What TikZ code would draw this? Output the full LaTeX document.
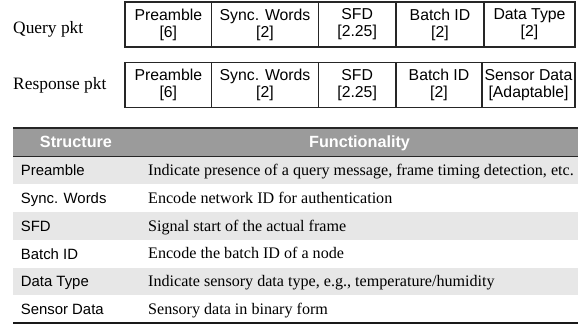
\documentclass[tikz,border=0pt]{standalone}
\usepackage{fontspec}
\setmainfont{Liberation Serif}
\setsansfont{Liberation Sans}
\definecolor{headgrey}{RGB}{155,155,155}
\definecolor{rowgrey}{RGB}{231,231,231}
\begin{document}
\begin{tikzpicture}[x=1pt,y=-1pt,
        field/.style={draw=black!85,line width=1.2pt,minimum height=45pt,inner sep=0pt,
                align=center,font=\sffamily\fontsize{15.8}{17}\selectfont},
        pktname/.style={anchor=base west,inner sep=0pt,font=\fontsize{17.4}{20}\selectfont},
        headtxt/.style={anchor=base,inner sep=0pt,text=white,font=\sffamily\bfseries\fontsize{16.2}{18}\selectfont},
        keytxt/.style={anchor=base west,inner sep=0pt,font=\sffamily\fontsize{14.9}{17}\selectfont},
        desctxt/.style={anchor=base west,inner sep=0pt,font=\fontsize{16.1}{18}\selectfont}]
        \useasboundingbox (0,0) rectangle (585,328);
        % packet formats
        \node[pktname] (qlabel) at (13,33.5) {Query pkt};
        \node[field,minimum width=86.7pt] (qpre) at (168.35,24.5) {Preamble\\{}[6]};
        \node[field,minimum width=106.6pt] (qsync) at (265,24.5) {Sync. Words\\{}[2]};
        \node[field,minimum width=77.7pt] (qsfd) at (357.15,24.5) {SFD\\{}[2.25]};
        \node[field,minimum width=88pt] (qbid) at (440,24.5) {Batch ID\\{}[2]};
        \node[field,minimum width=91pt] (qtype) at (529.5,24.5) {Data Type\\{}[2]};
        \node[pktname] (rlabel) at (13,89.5) {Response pkt};
        \node[field,minimum width=86.7pt] (rpre) at (168.35,85) {Preamble\\{}[6]};
        \node[field,minimum width=106.6pt] (rsync) at (265,85) {Sync. Words\\{}[2]};
        \node[field,minimum width=77.7pt] (rsfd) at (357.15,85) {SFD\\{}[2.25]};
        \node[field,minimum width=86pt] (rbid) at (439,85) {Batch ID\\{}[2]};
        \node[field,minimum width=93pt] (rdata) at (528.5,85) {Sensor Data\\{}[Adaptable]};
        % table
        \fill[headgrey] (13,128) rectangle (578,156.5);
        \foreach \k in {1,3,5}
                \fill[rowgrey] (13,{156.5+27.75*(\k-1)}) rectangle (578,{156.5+27.75*\k});
        \draw[line width=1.6pt,black!85] (13,128) -- (578,128);
        \draw[line width=1pt,black!85] (13,156.5) -- (578,156.5);
        \draw[line width=2pt,black!90] (13,323) -- (578,323);
        \node[headtxt] (hstruct) at (76,148) {Structure};
        \node[headtxt] (hfunc) at (359.5,148) {Functionality};
        \foreach \k/\key/\desc in {
                1/Preamble/{Indicate presence of a query message, frame timing detection, etc.},
                2/Sync. Words/{Encode network ID for authentication},
                3/SFD/{Signal start of the actual frame},
                4/Batch ID/{Encode the batch ID of a node},
                5/Data Type/{Indicate sensory data type, e.g., temperature/humidity},
                6/Sensor Data/{Sensory data in binary form}} {
                \node[keytxt] (key\k) at (20.7,{156.5+27.75*(\k-0.5)+5.4}) {\key};
                \node[desctxt] (desc\k) at (148,{156.5+27.75*(\k-0.5)+5.3}) {\desc};
        }
\end{tikzpicture}
\end{document}
